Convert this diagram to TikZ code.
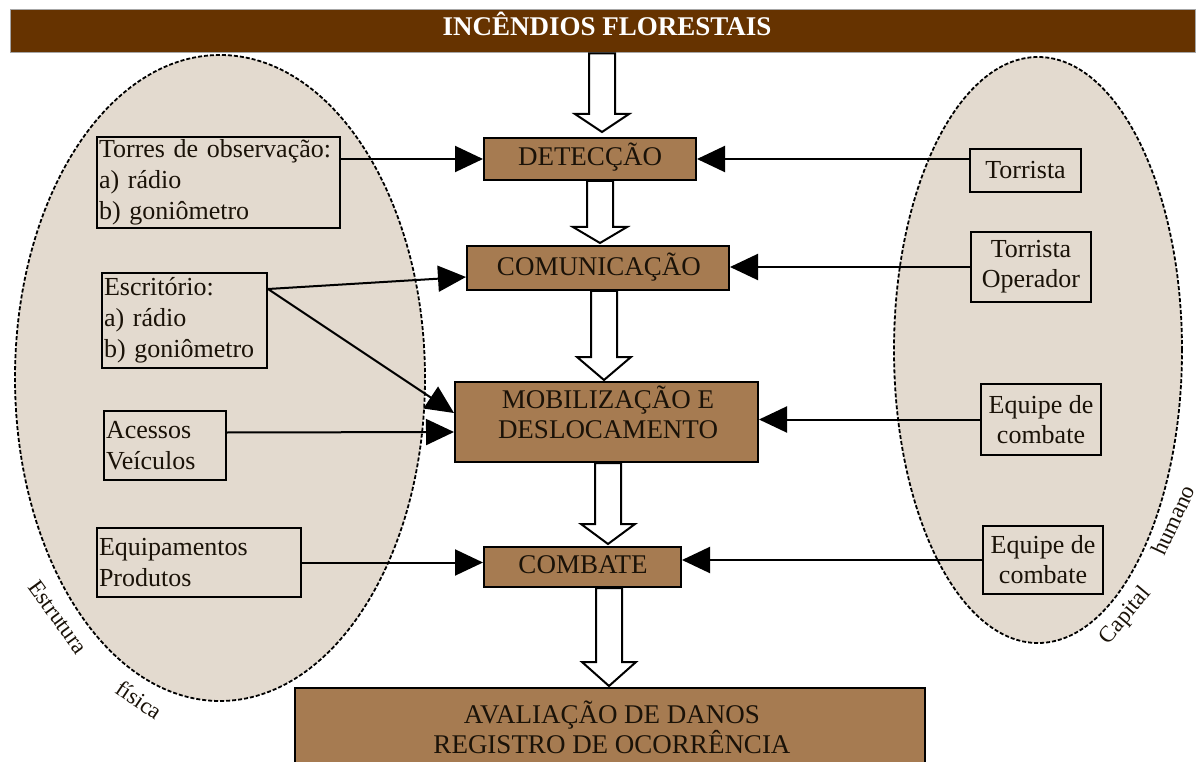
\documentclass[tikz,border=0pt]{standalone}
\usepackage{fontspec}
\setmainfont{Liberation Serif}
\usetikzlibrary{arrows.meta,calc}
\definecolor{titlebrown}{HTML}{663300}
\definecolor{boxbrown}{HTML}{A67B51}
\definecolor{ellfill}{HTML}{E3DACF}
\definecolor{boxtxt}{HTML}{1A1208}
\tikzset{
  ell/.style={fill=ellfill, draw=black, line width=1.8pt, dash pattern=on 4pt off 2pt},
  brownbox/.style={draw=black, line width=2pt, fill=boxbrown, inner sep=0pt, rectangle},
  leftbox/.style={draw=black, line width=2pt, fill=ellfill, inner xsep=2pt, inner ysep=0pt,
     align=left, text=boxtxt, font=\fontsize{26}{31}\selectfont},
  rightbox/.style={draw=black, line width=2pt, fill=ellfill, inner sep=0pt,
     align=center, text=boxtxt, font=\fontsize{26}{30}\selectfont},
  conn/.style={line width=2pt, -{Triangle[length=28pt,width=26pt]}},
  hollow/.style={draw=black, fill=white, line width=2pt, line join=miter},
  txt/.style={font=\fontsize{27}{30}\selectfont, text=boxtxt, inner sep=0pt, align=center},
  lbl/.style={font=\fontsize{23}{26}\selectfont, text=boxtxt, inner sep=0pt}
}
\newcommand{\harrow}[5]{%
 \draw[hollow] let \p1=(#2.south), \p2=(#3.north) in
  ({#1pt-13pt},\y1) -- ({#1pt-13pt},{\y2+#4pt+#5pt}) -- ({#1pt-27pt},{\y2+#4pt+#5pt})
  -- ({#1pt},{\y2+#4pt}) -- ({#1pt+27pt},{\y2+#4pt+#5pt}) -- ({#1pt+13pt},{\y2+#4pt+#5pt})
  -- ({#1pt+13pt},\y1) -- cycle;}
\begin{document}
\begin{tikzpicture}[x=1pt,y=-1pt]
\useasboundingbox (0,0) rectangle (1200,762);
\fill[white] (0,0) rectangle (1200,762);

% ellipses
\draw[ell] (220,378) ellipse [x radius=205pt, y radius=323pt];
\draw[ell] (1038,350) ellipse [x radius=144pt, y radius=293pt];

% title bar
\node[fill=titlebrown, draw=black!35, line width=1pt, minimum width=1185pt, minimum height=43pt, inner sep=0pt] (title) at (602.5,31.5) {};
\node[font=\bfseries\fontsize{27}{30}\selectfont, text=white, inner sep=0pt] (titletext) at (607,24) {INCÊNDIOS FLORESTAIS};

% left boxes
\node[leftbox, minimum width=243pt, text width=239pt, minimum height=91pt] (torres) at (218.5,182.5)
  {Torres de observação:\\a) rádio\\b) goniômetro};
\node[leftbox, minimum width=165pt, text width=161pt, minimum height=95pt] (escr) at (184.5,320.5)
  {Escritório:\\a) rádio\\b) goniômetro};
\node[leftbox, minimum width=122pt, text width=118pt, minimum height=69pt] (acess) at (165,445.5)
  {Acessos\\Veículos};
\node[leftbox, minimum width=204pt, text width=200pt, minimum height=69pt] (equip) at (199,562.5)
  {Equipamentos\\Produtos};

% right boxes
\node[rightbox, minimum width=111pt, minimum height=43pt] (torrista) at (1025.5,170.5) {Torrista};
\node[rightbox, minimum width=120pt, minimum height=70pt] (torop) at (1031,267) {Torrista\\Operador};
\node[rightbox, minimum width=120pt, minimum height=71pt] (eqa) at (1041,419.5) {Equipe de\\combate};
\node[rightbox, minimum width=120pt, minimum height=68pt] (eqb) at (1043,560) {Equipe de\\combate};

% central boxes
\node[brownbox, minimum width=212pt, minimum height=42pt] (det) at (590,159) {};
\node[txt] at (590,157) {DETECÇÃO};
\node[brownbox, minimum width=262pt, minimum height=44pt] (com) at (598,268) {};
\node[txt] at (599,267) {COMUNICAÇÃO};
\node[brownbox, minimum width=303pt, minimum height=80pt] (mob) at (606.5,422) {};
\node[txt] at (608,412) {MOBILIZAÇÃO E\\DESLOCAMENTO};
\node[brownbox, minimum width=197pt, minimum height=40pt] (comb) at (582.5,567) {};
\node[txt] at (583,565) {COMBATE};
\node[brownbox, minimum width=630pt, minimum height=87pt] (aval) at (610,731.5) {};
\node[txt] at (612,727) {AVALIAÇÃO DE DANOS\\REGISTRO DE OCORRÊNCIA};

% connectors
\draw[conn] (torres.east |- det.west) -- (det.west);
\draw[conn] (torrista.west |- det.east) -- (det.east);
\coordinate (escrout) at ($(escr.north east)+(0,17)$);
\draw[conn] (escrout) -- ($(com.west)+(0,9)$);
\draw[conn] (escrout) -- ($(mob.west)+(0,-9)$);
\draw[conn] ($(acess.east)+(0,-13)$) -- ($(mob.west)+(0,10)$);
\draw[conn] (equip.east) -- (equip.east -| comb.west);
\draw[conn] (torop.west) -- (torop.west -| com.east);
\draw[conn] (eqa.west) -- (eqa.west -| mob.east);
\draw[conn] (eqb.west) -- (eqb.west -| comb.east);

% hollow arrows
\harrow{602}{title}{det}{5}{18}
\harrow{600}{det}{com}{2}{16}
\harrow{604}{com}{mob}{1}{23}
\harrow{608}{mob}{comb}{2}{20}
\harrow{609}{comb}{aval}{1}{24}

% ellipse labels
\node[lbl, rotate=-54] at (58,617) {Estrutura};
\node[lbl, rotate=-34] at (139,700) {física};
\node[lbl, rotate=50] at (1126,616) {Capital};
\node[lbl, rotate=65] at (1173,520) {humano};
\end{tikzpicture}
\end{document}
